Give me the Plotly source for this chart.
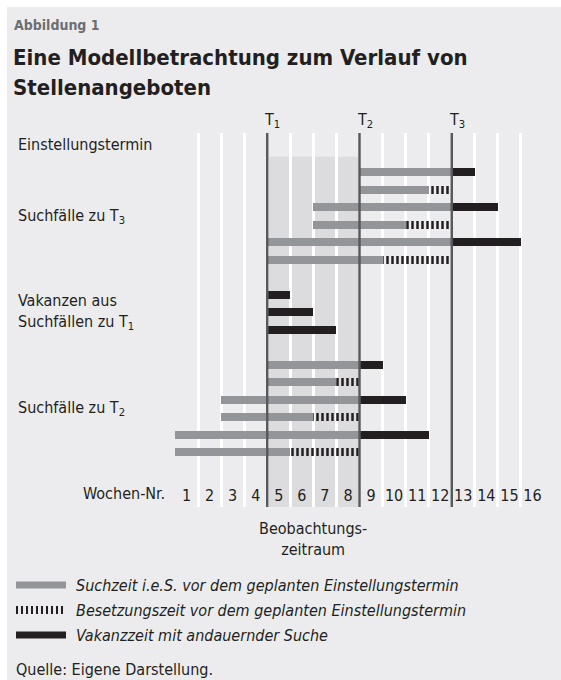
import plotly.graph_objects as go

# ---------------- data ----------------
weeks = ["1", "2", "3", "4", "5", "6", "7", "8", "9", "10", "11", "12", "13", "14", "15", "16"]
t_weeks = [4, 8, 12]
t_labels = ["T<sub>1</sub>", "T<sub>2</sub>", "T<sub>3</sub>"]
observation = [4, 8]

# row index (0 = top); rows 6 and 10 are empty spacers
such_rows = [0, 1, 2, 3, 4, 5, 11, 12, 13, 14, 15, 16]
such_start = [8, 8, 6, 6, 4, 4, 4, 4, 2, 2, 0, 0]
such_end = [12, 11, 12, 10, 12, 9, 8, 7, 8, 6, 8, 5]

besetz_rows = [1, 3, 5, 12, 14, 16]
besetz_start = [11, 10, 9, 7, 6, 5]
besetz_end = [12, 12, 12, 8, 8, 8]

vakanz_rows = [0, 2, 4, 7, 8, 9, 11, 13, 15]
vakanz_start = [12, 12, 12, 4, 4, 4, 8, 8, 8]
vakanz_end = [13, 14, 15, 5, 6, 7, 9, 10, 11]

group_labels = ["Einstellungstermin", "Suchfälle zu T<sub>3</sub>",
                "Vakanzen aus<br>Suchfällen zu T<sub>1</sub>", "Suchfälle zu T<sub>2</sub>"]
group_rows = [-1.6, 2.5, 8, 13.5]

legend_labels = ["Suchzeit i.e.S. vor dem geplanten Einstellungstermin",
                 "Besetzungszeit vor dem geplanten Einstellungstermin",
                 "Vakanzzeit mit andauernder Suche"]

# ---------------- style ----------------
FONT = "DejaVu Sans Condensed, Liberation Sans Narrow, Arial Narrow, sans-serif"
INK = "#231F20"
GRAY = "#939598"
TLINE = "#58595B"
PANEL = "#ECECEE"
SHADE = "#DCDCDE"

W, H = 561, 680
L, R, T, B = 175, 544, 133, 507
ROW0, ROWSTEP = 172.3, 17.5


def px(p):
    return (p - L) / (R - L)


def py(p):
    return (B - p) / (B - T)


y_bottom = (B - ROW0) / ROWSTEP
y_top = (T - ROW0) / ROWSTEP
BARW = 0.46

fig = go.Figure()
fig.add_trace(go.Bar(
    orientation="h", y=such_rows, base=such_start,
    x=[e - s for s, e in zip(such_start, such_end)],
    width=BARW, marker=dict(color=GRAY, line=dict(width=0)),
    name=legend_labels[0], showlegend=False, hoverinfo="skip"))
fig.add_trace(go.Bar(
    orientation="h", y=besetz_rows, base=besetz_start,
    x=[e - s for s, e in zip(besetz_start, besetz_end)],
    width=BARW, marker=dict(color=INK, line=dict(width=0),
                            pattern=dict(shape="|", size=5, solidity=0.5, fillmode="replace")),
    name=legend_labels[1], showlegend=False, hoverinfo="skip"))
fig.add_trace(go.Bar(
    orientation="h", y=vakanz_rows, base=vakanz_start,
    x=[e - s for s, e in zip(vakanz_start, vakanz_end)],
    width=BARW, marker=dict(color=INK, line=dict(width=0)),
    name=legend_labels[2], showlegend=False, hoverinfo="skip"))

shapes = []
# panel background
shapes.append(dict(type="rect", xref="paper", yref="paper", x0=px(7), x1=px(W + 5),
                   y0=py(7), y1=py(H + 5), fillcolor=PANEL, line=dict(width=0), layer="below"))
# observation period shading
shapes.append(dict(type="rect", xref="x", yref="y", x0=observation[0], x1=observation[1],
                   y0=-0.89, y1=y_bottom, fillcolor=SHADE, line=dict(width=0), layer="below"))
# T lines
for t in t_weeks:
    shapes.append(dict(type="line", xref="x", yref="paper", x0=t, x1=t, y0=0, y1=1,
                       line=dict(color=TLINE, width=2.5), layer="above"))

# legend symbols
leg_y = [585, 610, 635]
shapes.append(dict(type="line", xref="paper", yref="paper", x0=px(16), x1=px(66),
                   y0=py(leg_y[0]), y1=py(leg_y[0]), line=dict(color=GRAY, width=7)))
shapes.append(dict(type="line", xref="paper", yref="paper", x0=px(16), x1=px(66),
                   y0=py(leg_y[1]), y1=py(leg_y[1]), line=dict(color=INK, width=8, dash="2px,3px")))
shapes.append(dict(type="line", xref="paper", yref="paper", x0=px(16), x1=px(66),
                   y0=py(leg_y[2]), y1=py(leg_y[2]), line=dict(color=INK, width=7)))

ann = []
ann.append(dict(text="<b>Abbildung 1</b>", xref="paper", yref="paper", x=px(12), y=py(25),
                xanchor="left", yanchor="middle", showarrow=False,
                font=dict(family=FONT, size=14, color="#6D6E71")))
ann.append(dict(text="<b>Eine Modellbetrachtung zum Verlauf von</b>", xref="paper", yref="paper",
                x=px(11), y=py(57), xanchor="left", yanchor="middle", showarrow=False,
                font=dict(family=FONT, size=22, color=INK)))
ann.append(dict(text="<b>Stellenangeboten</b>", xref="paper", yref="paper",
                x=px(11), y=py(88), xanchor="left", yanchor="middle", showarrow=False,
                font=dict(family=FONT, size=22, color=INK)))
for t, lab in zip(t_weeks, t_labels):
    ann.append(dict(text=lab, xref="x", yref="paper", x=t, y=py(120), xanchor="left",
                    xshift=-5, yanchor="middle", showarrow=False,
                    font=dict(family=FONT, size=16, color=INK)))
for lab, r in zip(group_labels, group_rows):
    ann.append(dict(text=lab, xref="paper", yref="y", x=px(16), y=r, xanchor="left",
                    yanchor="middle", align="left", showarrow=False,
                    font=dict(family=FONT, size=16, color=INK)))
ann.append(dict(text="Wochen-Nr.", xref="paper", yref="paper", x=px(167), y=py(493),
                xanchor="right", yanchor="middle", showarrow=False,
                font=dict(family=FONT, size=16, color=INK)))
ann.append(dict(text="Beobachtungs-<br>zeitraum", xref="x",
                yref="paper", x=sum(observation) / 2, y=py(539), xanchor="center",
                yanchor="middle", showarrow=False,
                font=dict(family=FONT, size=16, color=INK)))
for lab, yy in zip(legend_labels, leg_y):
    ann.append(dict(text="<i>" + lab + "</i>", xref="paper", yref="paper", x=px(74), y=py(yy),
                    xanchor="left", yanchor="middle", showarrow=False,
                    font=dict(family=FONT, size=16, color=INK)))
ann.append(dict(text="Quelle: Eigene Darstellung.", xref="paper", yref="paper", x=px(14),
                y=py(669), xanchor="left", yanchor="middle", showarrow=False,
                font=dict(family=FONT, size=16, color=INK)))

fig.update_layout(
    width=W, height=H,
    margin=dict(l=L, r=W - R, t=T, b=H - B, pad=0),
    paper_bgcolor="white", plot_bgcolor="rgba(0,0,0,0)",
    barmode="overlay", bargap=0,
    shapes=shapes, annotations=ann, showlegend=False,
    xaxis=dict(range=[0, 16], tickvals=[i + 0.5 for i in range(16)], ticktext=weeks,
               ticks="", showgrid=False, zeroline=False, showline=False,
               ticklabelposition="inside",
               tickfont=dict(family=FONT, size=16, color=INK),
               minor=dict(tickvals=list(range(17)), showgrid=True, gridcolor="white",
                          gridwidth=3, ticks="")),
    yaxis=dict(range=[y_bottom, y_top], showgrid=False, zeroline=False, showline=False,
               showticklabels=False, ticks=""),
)

fig.write_html("out.html", config={"displayModeBar": False},
               post_script="document.body.style.margin='0';document.body.style.overflow='hidden';")
